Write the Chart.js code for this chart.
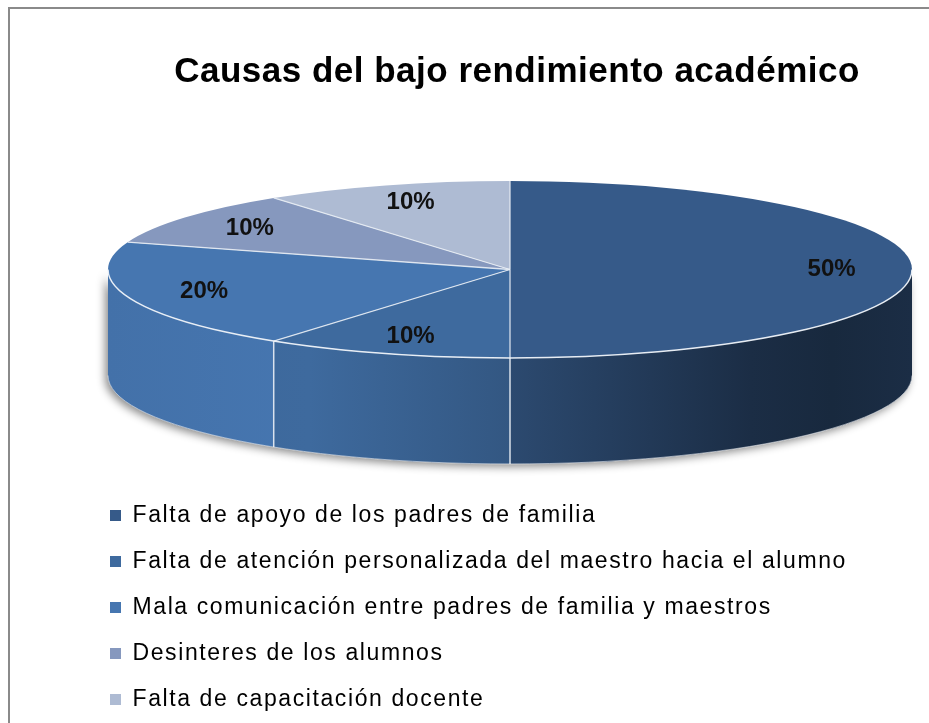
<!DOCTYPE html>
<html><head><meta charset="utf-8">
<script src="https://cdn.jsdelivr.net/npm/chart.js@4.4.1/dist/chart.umd.min.js"></script>
<style>
html,body{margin:0;padding:0;background:#fff;}
#wrap{position:relative;width:929px;height:723px;overflow:hidden;}
#frame{position:absolute;left:8px;top:7px;width:960px;height:760px;border-left:2px solid #8a8a8a;border-top:2px solid #8a8a8a;pointer-events:none;}
canvas{position:absolute;left:0;top:0;}
</style></head><body>
<div id="wrap"><canvas id="c" width="929" height="723"></canvas><div id="frame"></div></div>
<script>
const chartTitle = 'Causas del bajo rendimiento académico';
const categories = [
  'Falta de apoyo de los padres de familia',
  'Falta de atención personalizada del maestro hacia el alumno',
  'Mala comunicación entre padres de familia y maestros',
  'Desinteres de los alumnos',
  'Falta de capacitación docente'
];
const percentages = [50, 10, 20, 10, 10];
const sliceColors = ['#365A89', '#3E6A9E', '#4676B0', '#8698BE', '#AEBBD3'];

const FONT = "'Liberation Sans', Arial, Helvetica, sans-serif";
Chart.defaults.font.family = FONT;

function shade(col, m) {
  let r, g, b;
  if (col[0] === '#') {
    const n = parseInt(col.slice(1), 16);
    r = (n >> 16) & 255; g = (n >> 8) & 255; b = n & 255;
  } else {
    const p = col.match(/\d+(\.\d+)?/g).map(Number);
    r = p[0]; g = p[1]; b = p[2];
  }
  const f = v => Math.max(0, Math.min(255, Math.round(v * m)));
  return 'rgb(' + f(r) + ',' + f(g) + ',' + f(b) + ')';
}
const sideLight = [[0, 0.96], [0.25, 1.0], [0.5, 0.82], [0.8, 0.5], [0.9, 0.45], [1, 0.5]];

function frontRanges(s, e) {
  const out = [];
  for (const off of [-2 * Math.PI, 0, 2 * Math.PI]) {
    const a = Math.max(s + off, 0), b = Math.min(e + off, Math.PI);
    if (b > a + 1e-6) out.push([a, b]);
  }
  return out;
}
function inFront(a) {
  let x = a % (2 * Math.PI); if (x < 0) x += 2 * Math.PI;
  return x > 1e-6 && x < Math.PI - 1e-6;
}

const pie3d = {
  id: 'pie3d',
  beforeDraw(chart, args, o) {
    [[chart.titleBlock, o.titleSpacing, false], [chart.legend, o.legendSpacing, true]].forEach(([box, sp, widen]) => {
      if (box && !box.$wrapped) {
        const orig = box.draw.bind(box);
        box.draw = function (...a) {
          const c = chart.ctx;
          const r = box.right, w = box.width;
          if (widen) {
            box.right = Math.max(r, chart.width + 40);
            box.width = box.right - box.left;
          }
          c.save(); c.letterSpacing = sp; orig(...a); c.restore();
          box.right = r; box.width = w;
        };
        box.$wrapped = true;
      }
    });
  },
  beforeDatasetsDraw(chart, args, o) {
    const ctx = chart.ctx;
    const arcs = chart.getDatasetMeta(0).data;
    if (!arcs.length) return;
    const R = arcs[0].outerRadius, k = o.tilt, D = o.depth, sx = o.x, sy = o.y, ry = R * k;
    // shadow under the side wall
    ctx.save();
    ctx.beginPath();
    ctx.ellipse(sx, sy, R, ry, 0, 0, Math.PI, false);
    ctx.ellipse(sx, sy + D, R, ry, 0, Math.PI, 0, true);
    ctx.closePath();
    ctx.shadowColor = 'rgba(0,0,0,0.45)'; ctx.shadowBlur = 8; ctx.shadowOffsetX = -3; ctx.shadowOffsetY = 3;
    ctx.fillStyle = '#2a4670'; ctx.fill();
    ctx.restore();
    // side walls
    arcs.forEach((arc) => {
      const base = arc.options.backgroundColor;
      frontRanges(arc.startAngle, arc.endAngle).forEach(([a, b]) => {
        const g = ctx.createLinearGradient(sx - R, 0, sx + R, 0);
        sideLight.forEach(([t, m]) => g.addColorStop(t, shade(base, m)));
        ctx.beginPath();
        ctx.ellipse(sx, sy, R, ry, 0, a, b, false);
        ctx.ellipse(sx, sy + D, R, ry, 0, b, a, true);
        ctx.closePath();
        ctx.fillStyle = g; ctx.fill();
      });
    });
    // side separators
    ctx.save();
    ctx.strokeStyle = 'rgba(235,240,246,0.9)'; ctx.lineWidth = 1.5;
    arcs.forEach((arc) => {
      if (inFront(arc.startAngle)) {
        const x = sx + R * Math.cos(arc.startAngle), y = sy + ry * Math.sin(arc.startAngle);
        ctx.beginPath(); ctx.moveTo(x, y); ctx.lineTo(x, y + D); ctx.stroke();
      }
    });
    ctx.strokeStyle = 'rgba(255,255,255,0.55)'; ctx.lineWidth = 1;
    ctx.beginPath(); ctx.ellipse(sx, sy + D, R, ry, 0, 0, Math.PI, false); ctx.stroke();
    ctx.restore();
    // tilt the top face that Chart.js draws
    ctx.save();
    ctx.translate(sx, sy); ctx.scale(1, k); ctx.translate(-arcs[0].x, -arcs[0].y);
    chart.$tilted = true;
  },
  afterDatasetsDraw(chart, args, o) {
    const ctx = chart.ctx;
    if (chart.$tilted) { ctx.restore(); chart.$tilted = false; }
    const arcs = chart.getDatasetMeta(0).data;
    if (!arcs.length) return;
    const R = arcs[0].outerRadius, k = o.tilt, sx = o.x, sy = o.y, ry = R * k;
    ctx.save();
    // slice separators on top face
    ctx.strokeStyle = 'rgba(232,237,244,0.9)'; ctx.lineWidth = 1.3;
    arcs.forEach((arc) => {
      const a = arc.startAngle;
      ctx.beginPath(); ctx.moveTo(sx, sy);
      ctx.lineTo(sx + R * Math.cos(a), sy + ry * Math.sin(a)); ctx.stroke();
    });
    // front rim highlight
    ctx.strokeStyle = 'rgba(240,244,250,0.95)'; ctx.lineWidth = 1.5;
    ctx.beginPath(); ctx.ellipse(sx, sy, R, ry, 0, 0, Math.PI, false); ctx.stroke();
    // percentage labels
    const data = chart.data.datasets[0].data;
    const total = data.reduce((s, v) => s + v, 0);
    ctx.fillStyle = '#111';
    ctx.font = 'bold 24px ' + FONT;
    ctx.textAlign = 'center'; ctx.textBaseline = 'middle';
    arcs.forEach((arc, i) => {
      const m = (arc.startAngle + arc.endAngle) / 2;
      const x = sx + R * o.labelRadius * Math.cos(m);
      const y = sy + ry * o.labelRadius * Math.sin(m);
      ctx.fillText(Math.round(data[i] / total * 100) + '%', x, y);
    });
    ctx.restore();
  }
};

new Chart(document.getElementById('c'), {
  type: 'pie',
  data: {
    labels: categories,
    datasets: [{
      data: percentages,
      backgroundColor: sliceColors,
      borderWidth: 0,
      radius: 402,
      clip: false
    }]
  },
  options: {
    responsive: false,
    animation: false,
    events: [],
    layout: { padding: { left: 87, right: -18, top: 0, bottom: -11 } },
    plugins: {
      tooltip: { enabled: false },
      title: {
        display: true, text: chartTitle, color: '#000',
        font: { family: FONT, size: 35, weight: 'bold' },
        padding: { top: 51, bottom: 20 }
      },
      legend: {
        position: 'left', align: 'end', maxWidth: 880,
        labels: {
          boxWidth: 11, boxHeight: 11, padding: 23, color: '#000',
          font: { family: FONT, size: 23 }
        }
      },
      pie3d: { x: 510, y: 269.5, tilt: 0.22, depth: 106, labelRadius: 0.8,
               titleSpacing: '0.5px', legendSpacing: '1.6px' }
    }
  },
  plugins: [pie3d]
});
</script>
</body></html>
